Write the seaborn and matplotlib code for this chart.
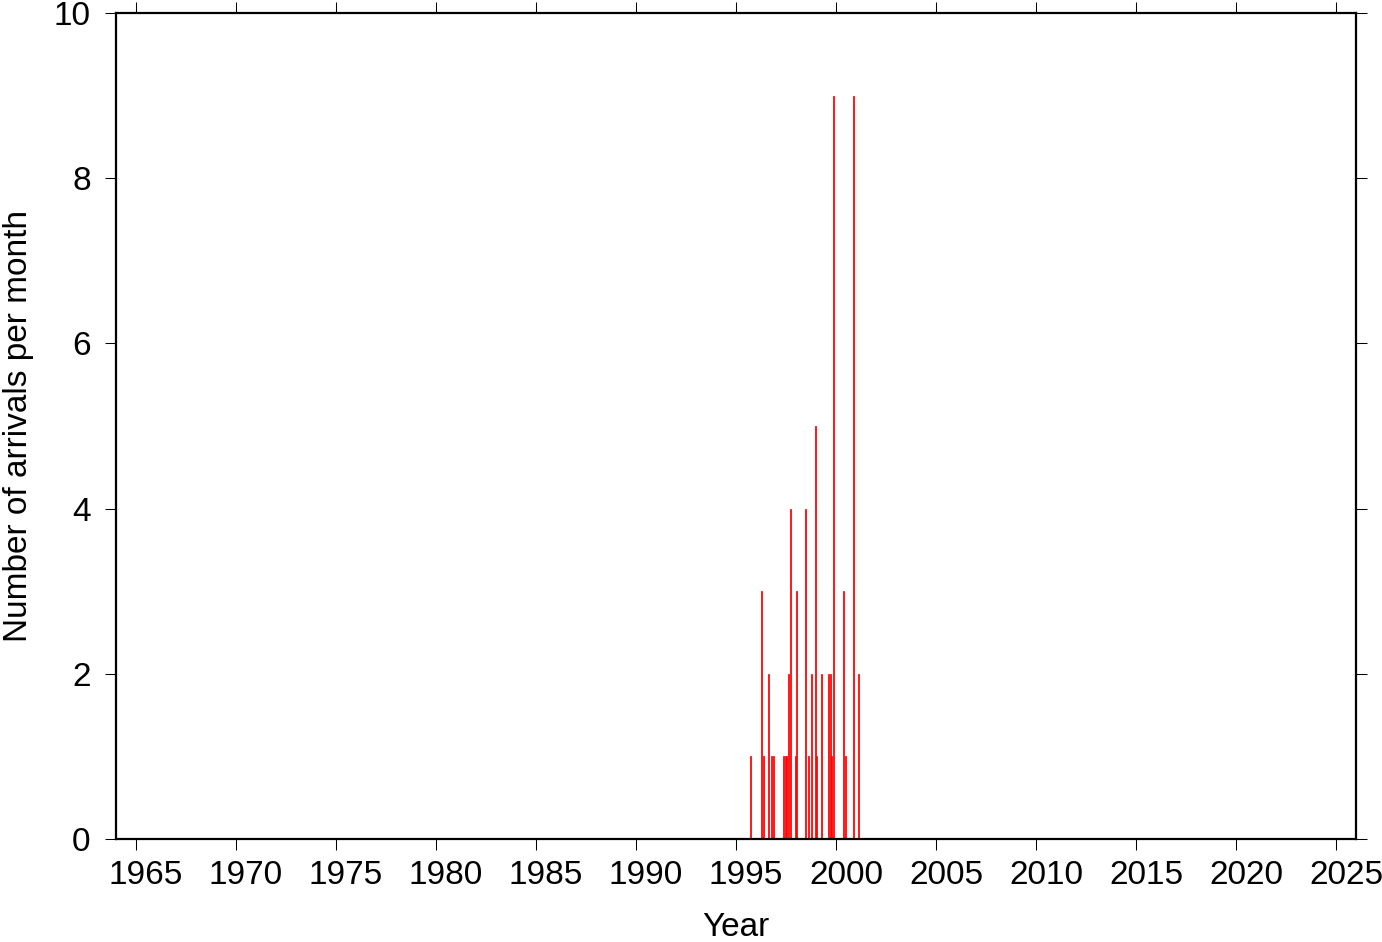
import matplotlib
matplotlib.use("Agg")
import matplotlib.pyplot as plt
import matplotlib.transforms as mtransforms
import seaborn as sns
import numpy as np
import pandas as pd

# Monthly arrival counts (year, month 1-12, count)
years = [1995, 1996, 1996, 1996, 1996, 1996, 1997, 1997, 1997, 1997, 1997, 1997,
         1998, 1998, 1998, 1998, 1998, 1999, 1999, 1999, 1999, 1999, 1999,
         2000, 2000, 2000, 2001]
months = [9, 4, 5, 8, 10, 11, 5, 6, 7, 8, 9, 12,
          1, 6, 8, 10, 12, 1, 4, 8, 9, 10, 11,
          5, 6, 11, 2]
counts = [1, 3, 1, 2, 1, 1, 1, 1, 1, 2, 4, 1,
          3, 4, 1, 2, 5, 1, 2, 2, 2, 1, 9,
          3, 1, 9, 2]

x_ticks = [1965, 1970, 1975, 1980, 1985, 1990, 1995, 2000, 2005, 2010, 2015, 2020, 2025]
y_ticks = [0, 2, 4, 6, 8, 10]

df = pd.DataFrame({
    "date": [y + (m - 0.5) / 12.0 for y, m in zip(years, months)],
    "count": counts,
})

sns.set_theme(style="white")
plt.rcParams['font.family'] = ['Liberation Sans', 'DejaVu Sans']
plt.rcParams['text.color'] = 'black'
plt.rcParams['axes.labelcolor'] = 'black'
plt.rcParams['xtick.color'] = 'black'
plt.rcParams['ytick.color'] = 'black'

fig = plt.figure(figsize=(13.82, 9.42), dpi=100)
ax = fig.add_axes([116 / 1382, 1 - 839 / 942, (1356 - 116) / 1382, (839 - 13) / 942])

sns.histplot(data=df, x="date", weights="count", binwidth=1 / 12.0,
             binrange=(1995, 2002), shrink=0.6,
             color="#ff0000", alpha=1, linewidth=0.55, edgecolor="#ff0000", ax=ax)

ax.set_xlim(1964, 2026)
ax.set_ylim(0, 10)
ax.set_xticks(x_ticks)
ax.set_xticklabels([str(t) for t in x_ticks])
ax.set_yticks(y_ticks)
ax.set_yticklabels([str(t) for t in y_ticks])

for s in ax.spines.values():
    s.set_visible(True)
    s.set_color("black")
    s.set_linewidth(1.6)

ax.tick_params(axis="both", which="major", direction="out", length=8.2, width=0.75,
               colors="black", labelsize=24,
               top=True, right=True, bottom=True, left=True,
               labeltop=False, labelright=False)
ax.tick_params(axis="x", pad=7)
ax.tick_params(axis="y", pad=10)
ax.grid(False)

# tick annotations sit slightly right of their ticks in the reference
offset = mtransforms.ScaledTranslation(10 / 100, 0, fig.dpi_scale_trans)
for lbl in ax.get_xticklabels():
    lbl.set_transform(lbl.get_transform() + offset)

ax.set_xlabel("Year", fontsize=24, labelpad=15, color="black")
ax.set_ylabel("Number of arrivals per month", fontsize=24, labelpad=14, color="black")

fig.savefig("out.png", dpi=100, facecolor="white")
